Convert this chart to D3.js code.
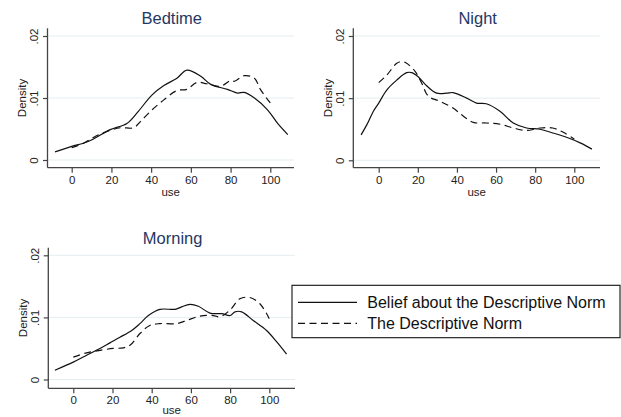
<!DOCTYPE html>
<html>
<head>
<meta charset="utf-8">
<script src="https://cdn.jsdelivr.net/npm/d3@7"></script>
<style>
html,body{margin:0;padding:0;background:#fff;}
svg{display:block;}
text{font-family:"Liberation Sans",Arial,sans-serif;}
</style>
</head>
<body>
<svg id="chart" width="621" height="417"></svg>
<script>
// ---- data ----
const panelTitles = ["Bedtime", "Night", "Morning"];
const seriesNames = ["Belief about the Descriptive Norm", "The Descriptive Norm"];
const xTicks = [0, 20, 40, 60, 80, 100];
const yTicks = [0, 0.01, 0.02];
const yTickLabels = ["0", ".01", ".02"];

const bedtimeBelief = [[-8.4,0.0013],[0,0.0022],[5.9,0.0027],[11,0.0034],[19.4,0.0049],[27.8,0.0059],[32.9,0.0076],[40.5,0.0105],[46.4,0.0120],[53,0.0132],[58,0.0145],[65,0.0135],[70,0.0122],[78.4,0.0114],[83.5,0.0108],[86.8,0.0109],[92,0.0100],[98.6,0.0081],[103.7,0.0059],[108.8,0.0041]];
const bedtimeNorm = [[0,0.0020],[5.9,0.0027],[11.8,0.0038],[17.7,0.0046],[24.5,0.0052],[31.2,0.0052],[34.6,0.0062],[40.5,0.0081],[46.4,0.0097],[53,0.0112],[58,0.0114],[63,0.0125],[68,0.0123],[75,0.0119],[80,0.0128],[82,0.0127],[86.8,0.0136],[92,0.0132],[95,0.0114],[100,0.0092]];

const nightBelief = [[-9,0.0041],[-6.1,0.0057],[-2.7,0.0079],[0,0.0092],[4.1,0.0113],[9.2,0.0129],[14.3,0.0141],[16.9,0.0141],[20.3,0.0134],[24.5,0.0120],[29.6,0.0108],[34.8,0.0108],[38,0.0109],[45,0.0100],[50,0.0092],[55,0.0091],[62,0.0079],[68.8,0.0060],[75.6,0.0052],[82.5,0.0050],[89,0.0044],[96,0.0037],[103,0.0028],[109,0.0018]];
const nightNorm = [[0,0.0125],[4.1,0.0137],[9.2,0.0156],[11.8,0.0159],[14.3,0.0156],[18.6,0.0143],[22,0.0124],[25.4,0.0103],[31.3,0.0095],[38,0.0084],[43.3,0.0071],[48.4,0.0061],[55,0.0060],[62,0.0058],[68.8,0.0052],[75.6,0.0048],[82.5,0.0052],[89,0.0052],[94.4,0.0045],[100,0.0034]];

const morningBelief = [[-9.4,0.0015],[0,0.0028],[6.8,0.0039],[13.6,0.0050],[18.7,0.0059],[23.8,0.0068],[29.8,0.0079],[34,0.0090],[38.3,0.0103],[44.2,0.0113],[51.9,0.0113],[55.3,0.0117],[59.5,0.0121],[63.8,0.0118],[69.7,0.0107],[75.7,0.0106],[80,0.0103],[82.5,0.0109],[85.9,0.0109],[91.8,0.0095],[98.6,0.0079],[103.7,0.0061],[108.8,0.0041]];
const morningNorm = [[0,0.0036],[6.8,0.0043],[13.6,0.0047],[20.4,0.0050],[25.5,0.0051],[28.9,0.0055],[34,0.0074],[39,0.0087],[44.2,0.0090],[52.7,0.0090],[57.8,0.0095],[64.6,0.0102],[71.4,0.0103],[74.8,0.0101],[80,0.0112],[85,0.0130],[90,0.0132],[95.2,0.0122],[100,0.0098]];

// ---- layout ----
const panels = [
  {title: panelTitles[0], data: [bedtimeBelief, bedtimeNorm], left: 47.5, right: 294, t0: 71.7, t100: 270.3, y0: 160, y02: 36, top: 28.3, bottom: 167.7, useGap: 28.5},
  {title: panelTitles[1], data: [nightBelief, nightNorm], left: 353.3, right: 600, t0: 378.7, t100: 574.3, y0: 160.3, y02: 36, top: 28.3, bottom: 167.7, useGap: 28.5},
  {title: panelTitles[2], data: [morningBelief, morningNorm], left: 48.3, right: 295, t0: 73.3, t100: 269.3, y0: 379.5, y02: 255.3, top: 247.7, bottom: 388.3, useGap: 26}
];
const dashes = [null, "7,4.5"];
const svg = d3.select("#chart");
const font = '"Liberation Sans",Arial,sans-serif';

panels.forEach(p => {
  const xs = d3.scaleLinear().domain([0, 100]).range([p.t0, p.t100]);
  const ys = d3.scaleLinear().domain([0, 0.02]).range([p.y0, p.y02]);
  const g = svg.append("g");

  // gridlines
  g.selectAll("line.grid").data(yTicks).join("line")
    .attr("x1", p.left).attr("x2", p.right)
    .attr("y1", d => ys(d)).attr("y2", d => ys(d))
    .attr("stroke", "#e3edf0").attr("stroke-width", 1);

  // curves
  const line = d3.line().x(d => xs(d[0])).y(d => ys(d[1])).curve(d3.curveCatmullRom.alpha(0.5));
  p.data.forEach((s, i) => {
    g.append("path").attr("d", line(s)).attr("fill", "none")
      .attr("stroke", "#111").attr("stroke-width", 1.2)
      .attr("stroke-dasharray", dashes[i]);
  });

  // axes
  const xAxis = d3.axisBottom(xs).tickValues(xTicks).tickSize(5).tickPadding(3).tickFormat(d3.format("d"));
  const xg = g.append("g").attr("transform", `translate(0,${p.bottom})`).call(xAxis);
  xg.select(".domain").remove();
  xg.append("line").attr("x1", p.left).attr("x2", p.right).attr("y1", 0).attr("y2", 0)
    .attr("stroke", "#444").attr("stroke-width", 1.3);
  xg.selectAll(".tick line").attr("stroke", "#444").attr("stroke-width", 1.2);
  xg.selectAll(".tick text").attr("font-size", 11.5).attr("font-family", font).attr("fill", "#222");

  const yAxis = d3.axisLeft(ys).tickValues(yTicks).tickSize(4.5).tickFormat((d, i) => yTickLabels[i]);
  const yg = g.append("g").attr("transform", `translate(${p.left},0)`).call(yAxis);
  yg.select(".domain").remove();
  yg.append("line").attr("x1", 0).attr("x2", 0).attr("y1", p.top).attr("y2", p.bottom)
    .attr("stroke", "#444").attr("stroke-width", 1.3);
  yg.selectAll(".tick line").attr("stroke", "#444").attr("stroke-width", 1.2);
  yg.selectAll(".tick text")
    .attr("x", null).attr("dy", null)
    .attr("transform", "translate(-9.5,0) rotate(-90)")
    .attr("text-anchor", "middle").attr("font-size", 11.5).attr("font-family", font).attr("fill", "#222");

  // axis titles
  g.append("text").attr("x", (p.left + p.right) / 2).attr("y", p.bottom + p.useGap)
    .attr("text-anchor", "middle").attr("font-size", 11.5).attr("fill", "#222").text("use");
  g.append("text").attr("transform", `translate(${p.left - 21.2},${(p.top + p.bottom) / 2}) rotate(-90)`)
    .attr("text-anchor", "middle").attr("font-size", 11.5).attr("fill", "#222").text("Density");

  // panel title
  g.append("text").attr("x", (p.left + p.right) / 2 + 1).attr("y", p.top - 4)
    .attr("text-anchor", "middle").attr("font-size", 16.5).attr("fill", "#1f3864").text(p.title);
});

// legend
const leg = svg.append("g");
leg.append("rect").attr("x", 292).attr("y", 285.3).attr("width", 328).attr("height", 52.4)
  .attr("fill", "#fff").attr("stroke", "#111").attr("stroke-width", 1.1);
seriesNames.forEach((name, i) => {
  const yy = 302.3 + i * 21;
  leg.append("line").attr("x1", 298).attr("x2", 357).attr("y1", yy).attr("y2", yy)
    .attr("stroke", "#111").attr("stroke-width", 1.2).attr("stroke-dasharray", dashes[i]);
  leg.append("text").attr("x", 367.3).attr("y", yy + 5.3).attr("font-size", 16)
    .attr("fill", "#111").text(name);
});
</script>
</body>
</html>
